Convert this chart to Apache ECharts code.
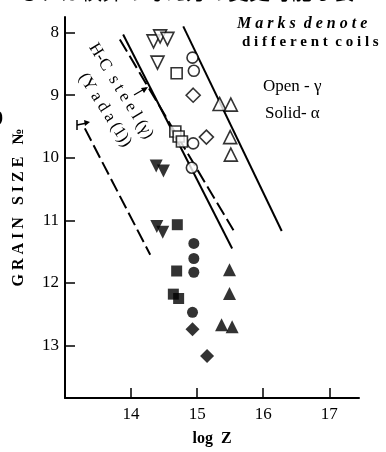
<!DOCTYPE html>
<html>
<head>
<meta charset="utf-8">
<script src="https://cdn.jsdelivr.net/npm/echarts@6/dist/echarts.min.js"></script>
<style>
  html, body { margin: 0; padding: 0; background: #fff; }
  #chart { width: 386px; height: 452px; }
</style>
</head>
<body>
<div id="chart"></div>
<script>
// ticks
const xTicks = [14, 15, 16, 17];
const yTicks = [8, 9, 10, 11, 12, 13];

// open marks (gamma)
const openTriDown = [[14.34, 8.14], [14.44, 8.06], [14.55, 8.10], [14.40, 8.48]];
const openSquare = [[14.69, 8.65], [14.67, 9.58], [14.72, 9.66], [14.77, 9.74]];
const openCircle = [[14.93, 8.40], [14.95, 8.61], [14.94, 9.77], [14.92, 10.16]];
const openDiamond = [[14.94, 9.00], [15.14, 9.67]];
const openTriUp = [[15.34, 9.14], [15.51, 9.15], [15.50, 9.67], [15.51, 9.95]];

// solid marks (alpha)
const solidTriDown = [[14.38, 10.13], [14.49, 10.21], [14.39, 11.10], [14.48, 11.19]];
const solidSquare = [[14.70, 11.07], [14.69, 11.81], [14.64, 12.18], [14.72, 12.25]];
const solidCircle = [[14.95, 11.37], [14.95, 11.61], [14.95, 11.83], [14.93, 12.47]];
const solidDiamond = [[14.93, 12.74], [15.15, 13.17]];
const solidTriUp = [[15.49, 11.79], [15.49, 12.17], [15.37, 12.67], [15.53, 12.70]];

// reference lines
const rightLine = [[14.79, 7.90], [16.28, 11.17]];
const hcLine = [[13.88, 8.03], [15.53, 11.45]];
const hcDash = [[13.83, 8.11], [15.55, 11.16]];
const yadaLine = [[13.30, 9.53], [14.29, 11.55]];

const chart = echarts.init(document.getElementById('chart'));
const serif = 'Liberation Serif';

function marks(data, symbol, size, open, rotate) {
  return {
    type: 'scatter',
    data: data,
    symbol: symbol,
    symbolSize: size,
    symbolRotate: rotate || 0,
    itemStyle: open
      ? { color: '#fff', borderColor: '#000', borderWidth: 1.6 }
      : { color: '#000' },
    z: 5
  };
}

function refLine(data, dashed) {
  return {
    type: 'line',
    data: data,
    symbol: 'none',
    lineStyle: { color: '#000', width: 2, type: dashed ? [14, 5] : 'solid' },
    z: 3
  };
}

const option = {
  animation: false,
  grid: { left: 65, right: 27, top: 17, bottom: 49 },
  xAxis: {
    type: 'value',
    min: 13,
    max: 17.45,
    interval: 1,
    name: 'log  Z',
    nameLocation: 'middle',
    nameGap: 33,
    nameTextStyle: { fontFamily: serif, fontWeight: 'bold', fontSize: 16, color: '#000' },
    axisLine: { lineStyle: { color: '#000', width: 2 } },
    axisTick: { inside: true, length: 10, customValues: xTicks, lineStyle: { color: '#000', width: 1.5 } },
    axisLabel: { customValues: xTicks, fontFamily: serif, fontSize: 17, color: '#000', margin: 8 },
    splitLine: { show: false }
  },
  yAxis: {
    type: 'value',
    inverse: true,
    min: 7.75,
    max: 13.84,
    interval: 1,
    name: 'G R A I N   S I Z E   №',
    nameLocation: 'middle',
    nameGap: 38,
    nameTextStyle: { fontFamily: serif, fontWeight: 'bold', fontSize: 16, color: '#000' },
    axisLine: { lineStyle: { color: '#000', width: 2 } },
    axisTick: { inside: true, length: 10, customValues: yTicks, lineStyle: { color: '#000', width: 1.5 } },
    axisLabel: { customValues: yTicks, fontFamily: serif, fontSize: 17, color: '#000', margin: 6 },
    splitLine: { show: false }
  },
  series: [
    refLine(rightLine, false),
    refLine(hcLine, false),
    refLine(hcDash, true),
    refLine(yadaLine, true),
    marks(openTriDown, 'triangle', 13, true, 180),
    marks(openSquare, 'rect', 11, true),
    marks(openCircle, 'circle', 11, true),
    marks(openDiamond, 'diamond', 14, true),
    marks(openTriUp, 'triangle', 13, true),
    marks(solidTriDown, 'triangle', 13, false, 180),
    marks(solidSquare, 'rect', 11, false),
    marks(solidCircle, 'circle', 11, false),
    marks(solidDiamond, 'diamond', 14, false),
    marks(solidTriUp, 'triangle', 13, false)
  ],
  graphic: [
    // clipped caption line at the very top of the scan
    { type: 'text', left: 18, top: -19, style: { text: 'るれは横算の考え方の変更可能な装', font: '21px "Noto Sans CJK JP"', fill: '#000' } },
    { type: 'text', left: -7, top: 110, style: { text: '9', font: 'bold 20px ' + serif, fill: '#000' } },
    // legend notes
    { type: 'text', left: 237, top: 16, style: { text: 'M a r k s  d e n o t e', font: 'bold italic 16px ' + serif, fill: '#000' } },
    { type: 'text', left: 242, top: 35, style: { text: 'd i f f e r e n t  c o i l s', font: 'bold 15px ' + serif, fill: '#000' } },
    { type: 'text', left: 263, top: 78, style: { text: 'Open - γ', font: '17px ' + serif, fill: '#000' } },
    { type: 'text', left: 265, top: 105, style: { text: 'Solid- α', font: '17px ' + serif, fill: '#000' } },
    // rotated line labels
    { type: 'text', x: 121, y: 91, rotation: -1.02, style: { text: 'H-C  s t e e l (γ)', font: '17px ' + serif, fill: '#000', align: 'center', verticalAlign: 'middle' } },
    { type: 'text', x: 105, y: 110, rotation: -1.0, style: { text: '(Y a d a (1))', font: '17px ' + serif, fill: '#000', align: 'center', verticalAlign: 'middle' } },
    // arrow to H-C line
    { type: 'line', shape: { x1: 134, y1: 95, x2: 146, y2: 88 }, style: { stroke: '#000', lineWidth: 1.3 } },
    { type: 'polygon', shape: { points: [[148, 87], [141, 88], [144, 93]] }, style: { fill: '#000' } },
    // arrow to Yada line
    { type: 'line', shape: { x1: 77, y1: 120, x2: 77, y2: 130 }, style: { stroke: '#000', lineWidth: 1.5 } },
    { type: 'line', shape: { x1: 77, y1: 125, x2: 87, y2: 123 }, style: { stroke: '#000', lineWidth: 1.3 } },
    { type: 'polygon', shape: { points: [[90, 122], [84, 120], [85, 126]] }, style: { fill: '#000' } }
  ]
};

chart.setOption(option);
</script>
</body>
</html>
